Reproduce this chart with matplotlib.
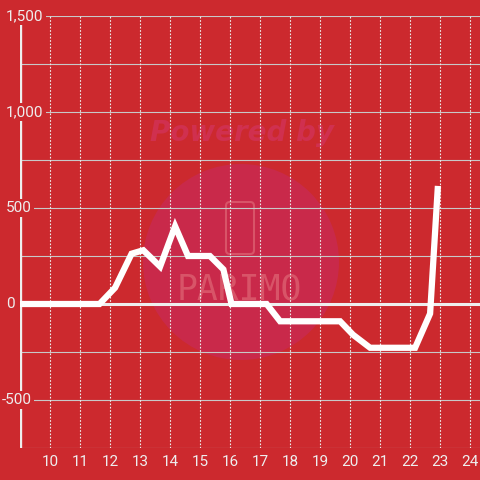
import matplotlib
matplotlib.use("Agg")
import matplotlib.pyplot as plt
from matplotlib.patches import Circle, FancyBboxPatch
import matplotlib.transforms as mtransforms

# ---- data ----
hours = [9.0, 11.65, 12.17, 12.72, 13.11, 13.67, 14.17, 14.6, 15.33, 15.78, 16.05,
         17.22, 17.67, 19.67, 20.1, 20.67, 22.17, 22.67, 22.93]
values = [0, 0, 85, 262, 280, 195, 405, 250, 250, 180, 0,
          0, -90, -90, -160, -228, -228, -50, 615]
x_ticks = list(range(10, 25))
x_tick_labels = [str(t) for t in x_ticks]
y_label_ticks = [1500, 1000, 500, 0, -500]
y_label_texts = ["1,500", "1,000", "500", "0", "-500"]
y_grid = [1250, 750, 250, -250, -750]

BG = "#cc292e"
FG = "#eeeeee"
GRID = "#c8c8c8"

plt.rcParams["font.family"] = ["Roboto", "DejaVu Sans"]

fig = plt.figure(figsize=(4.8, 4.8), dpi=100, facecolor=BG)
ax = fig.add_axes([20 / 480, 32 / 480, 460 / 480, 432 / 480])
ax.set_facecolor("none")
ax.set_xlim(9.0, 9.0 + 460 / 30)
ax.set_ylim(-750, 1500)
for s in ax.spines.values():
    s.set_visible(False)

# watermark
ax.add_patch(Circle((241 / 480, 1 - 262 / 480), 98 / 480, transform=fig.transFigure,
                    facecolor="#c9294a", edgecolor="none", zorder=0.3, clip_on=False))
ax.text(242 / 480, 1 - 133 / 480, "Powered by", transform=fig.transFigure,
        fontsize=20, fontweight="bold", fontstyle="italic", color="#d0304f",
        ha="center", va="center", zorder=0.4, family="DejaVu Sans")
ax.add_patch(FancyBboxPatch((226 / 480, 1 - 254 / 480), 28 / 480, 52 / 480,
                            boxstyle="round,pad=0,rounding_size=0.008",
                            transform=fig.transFigure, facecolor="none",
                            edgecolor="#d85468", linewidth=1.5, zorder=0.4, clip_on=False))
ax.text(239 / 480, 1 - 289 / 480, "PARIMO", transform=fig.transFigure,
        fontsize=25, color="#d85468", ha="center", va="center", zorder=0.4,
        family="DejaVu Sans Mono")

# grid
for g in y_grid + [1500, 1000, 500, -500]:
    ax.axhline(g, color=GRID, lw=0.8, zorder=1)
ax.axhline(0, color=FG, lw=2.2, zorder=1.2)
for t in x_ticks:
    ax.axvline(t, color=FG, lw=0.8, ls=(0, (1.5, 1.5)), zorder=1)

# left spine
ax.axvline(9.0, color=FG, lw=2.4, zorder=1.5)

# data line
ax.plot(hours, values, color="white", lw=4.5, zorder=3, solid_joinstyle="miter",
        solid_capstyle="butt", clip_on=False)

# x ticks
ax.set_xticks(x_ticks)
ax.set_xticklabels(x_tick_labels)
ax.set_yticks([])
ax.tick_params(axis="x", length=0, pad=5, labelsize=11, labelcolor=FG)

# y labels with background boxes
tr = mtransforms.blended_transform_factory(fig.transFigure, ax.transData)
for v, lab in zip(y_label_ticks, y_label_texts):
    ax.text(6 / 480 if not lab.startswith("-") else 2 / 480, v, lab, transform=tr,
            fontsize=11, color=FG, ha="left", va="center", zorder=2,
            bbox=dict(facecolor=BG, edgecolor="none", pad=1.5), clip_on=False)

fig.savefig("out.png", dpi=100, facecolor=BG)
